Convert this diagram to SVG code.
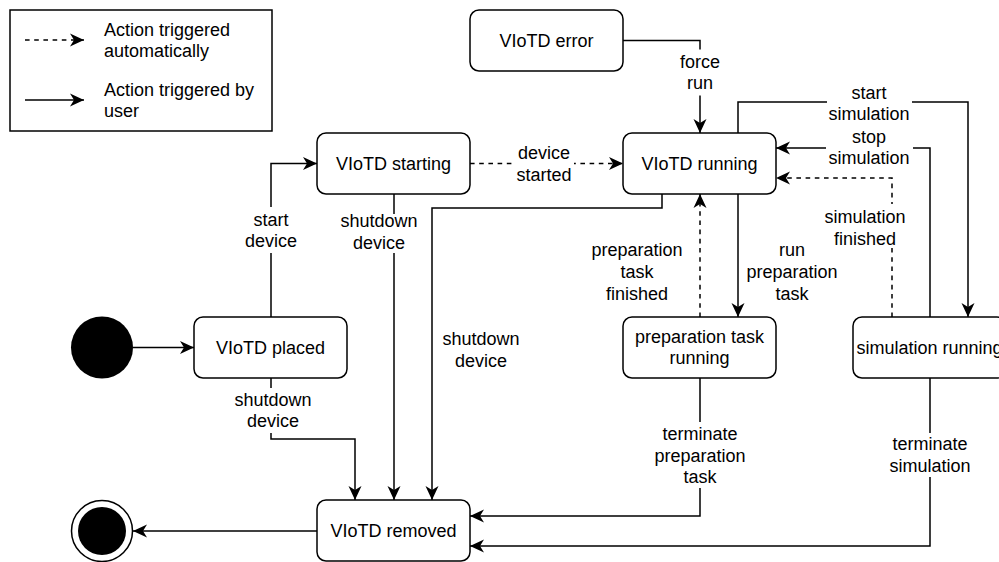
<svg xmlns="http://www.w3.org/2000/svg" width="999" height="562" viewBox="0 0 999 562">
  <defs>
    <marker id="arrow" markerUnits="userSpaceOnUse" markerWidth="16" markerHeight="16" refX="14" refY="8" orient="auto">
      <path d="M0,1.5 L14,8 L0,14.5 L4,8 Z" fill="#000"/>
    </marker>
    <style>
      text { font-family: "Liberation Sans", Arial, Helvetica, sans-serif; font-size: 18px; fill: #000; }
      .c { text-anchor: middle; }
      .node rect { fill: #fff; stroke: #000; stroke-width: 1.5; }
      .edge { fill: none; stroke: #000; stroke-width: 1.5; marker-end: url(#arrow); }
      .dash { stroke-dasharray: 4.6 4.6; }
      .bg { fill: #fff; stroke: none; }
    </style>
  </defs>

  <rect width="999" height="562" fill="#fff"/>

  <!-- legend -->
  <g id="legend">
    <rect x="10" y="10" width="262" height="121" fill="#fff" stroke="#000" stroke-width="1.5"/>
    <path class="edge dash" d="M25,40 H84"/>
    <text x="104" y="35.5">Action triggered</text>
    <text x="104" y="57">automatically</text>
    <path class="edge" d="M25,100 H84"/>
    <text x="104" y="95.5">Action triggered by</text>
    <text x="104" y="117">user</text>
  </g>

  <!-- transitions -->
  <g id="connectors">
    <path class="edge" d="M133,347.5 H194"/>
    <path class="edge" d="M271,317 V163.5 H317"/>
    <path class="edge dash" d="M470,163.5 H623"/>
    <path class="edge" d="M623,40.5 H700 V133"/>
    <path class="edge" d="M738,133 V102 H968 V317"/>
    <path class="edge" d="M930,317 V148 H776"/>
    <path class="edge dash" d="M892,317 V178 H776"/>
    <path class="edge" d="M738,194 V317"/>
    <path class="edge dash" d="M700,317 V194"/>
    <path class="edge" d="M662,194 V208 H432 V500"/>
    <path class="edge" d="M394,194 V500"/>
    <path class="edge" d="M271,378 V439 H355 V500"/>
    <path class="edge" d="M700,378 V516 H470"/>
    <path class="edge" d="M930,378 V546 H470"/>
    <path class="edge" d="M317,531 H133"/>

    <!-- transition labels -->
    <rect class="bg" x="676" y="49.5" width="48" height="46"/>
    <text class="c" x="700" y="67.7">force</text>
    <text class="c" x="700" y="89.3">run</text>

    <rect class="bg" x="827" y="84" width="85" height="39"/>
    <text class="c" x="869" y="98.7">start</text>
    <text class="c" x="869" y="120.3">simulation</text>

    <rect class="bg" x="826" y="128" width="87" height="39"/>
    <text class="c" x="869" y="142.7">stop</text>
    <text class="c" x="869" y="164.3">simulation</text>

    <rect class="bg" x="823" y="204" width="84" height="44"/>
    <text class="c" x="865" y="223.2">simulation</text>
    <text class="c" x="865" y="244.8">finished</text>

    <rect class="bg" x="514" y="144" width="60" height="40"/>
    <text class="c" x="544" y="159.2">device</text>
    <text class="c" x="544" y="180.8">started</text>

    <rect class="bg" x="240" y="207" width="62" height="46"/>
    <text class="c" x="271" y="225.7">start</text>
    <text class="c" x="271" y="247.3">device</text>

    <rect class="bg" x="339" y="214" width="80" height="39"/>
    <text class="c" x="379" y="227.2">shutdown</text>
    <text class="c" x="379" y="248.8">device</text>

    <rect class="bg" x="233" y="388" width="80" height="45"/>
    <text class="c" x="273" y="405.7">shutdown</text>
    <text class="c" x="273" y="427.3">device</text>

    <text class="c" x="481" y="345.2">shutdown</text>
    <text class="c" x="481" y="366.8">device</text>

    <text class="c" x="637" y="256.4">preparation</text>
    <text class="c" x="637" y="278">task</text>
    <text class="c" x="637" y="299.6">finished</text>

    <text class="c" x="792" y="256.4">run</text>
    <text class="c" x="792" y="278">preparation</text>
    <text class="c" x="792" y="299.6">task</text>

    <rect class="bg" x="652" y="422" width="96" height="66"/>
    <text class="c" x="700" y="439.9">terminate</text>
    <text class="c" x="700" y="461.5">preparation</text>
    <text class="c" x="700" y="483.1">task</text>

    <rect class="bg" x="888" y="433" width="84" height="44"/>
    <text class="c" x="930" y="450.2">terminate</text>
    <text class="c" x="930" y="471.8">simulation</text>
  </g>

  <!-- states -->
  <g id="initial">
    <circle cx="102" cy="347.5" r="31" fill="#000"/>
  </g>

  <g id="final">
    <circle cx="102" cy="531" r="30.5" fill="#fff" stroke="#000" stroke-width="1.5"/>
    <circle cx="102" cy="531" r="24" fill="#000"/>
  </g>

  <g id="viotd-error" class="node">
    <rect x="470" y="10" width="153" height="61" rx="9"/>
    <text class="c" x="546.5" y="46.5">VIoTD error</text>
  </g>

  <g id="viotd-starting" class="node">
    <rect x="317" y="133" width="153" height="61" rx="9"/>
    <text class="c" x="393.5" y="169.5">VIoTD starting</text>
  </g>

  <g id="viotd-running" class="node">
    <rect x="623" y="133" width="153" height="61" rx="9"/>
    <text class="c" x="699.5" y="169.5">VIoTD running</text>
  </g>

  <g id="viotd-placed" class="node">
    <rect x="194" y="317" width="153" height="61" rx="9"/>
    <text class="c" x="270.5" y="353.5">VIoTD placed</text>
  </g>

  <g id="preparation-task-running" class="node">
    <rect x="623" y="317" width="153" height="61" rx="9"/>
    <text class="c" x="699.5" y="342.7">preparation task</text>
    <text class="c" x="699.5" y="364.3">running</text>
  </g>

  <!-- this state box runs past the right edge of the canvas -->
  <g id="simulation-running" class="node">
    <rect x="853" y="317" width="153" height="61" rx="9"/>
    <text class="c" x="929.5" y="353.5">simulation running</text>
  </g>

  <g id="viotd-removed" class="node">
    <rect x="317" y="500" width="153" height="61" rx="9"/>
    <text class="c" x="393.5" y="537">VIoTD removed</text>
  </g>
</svg>
